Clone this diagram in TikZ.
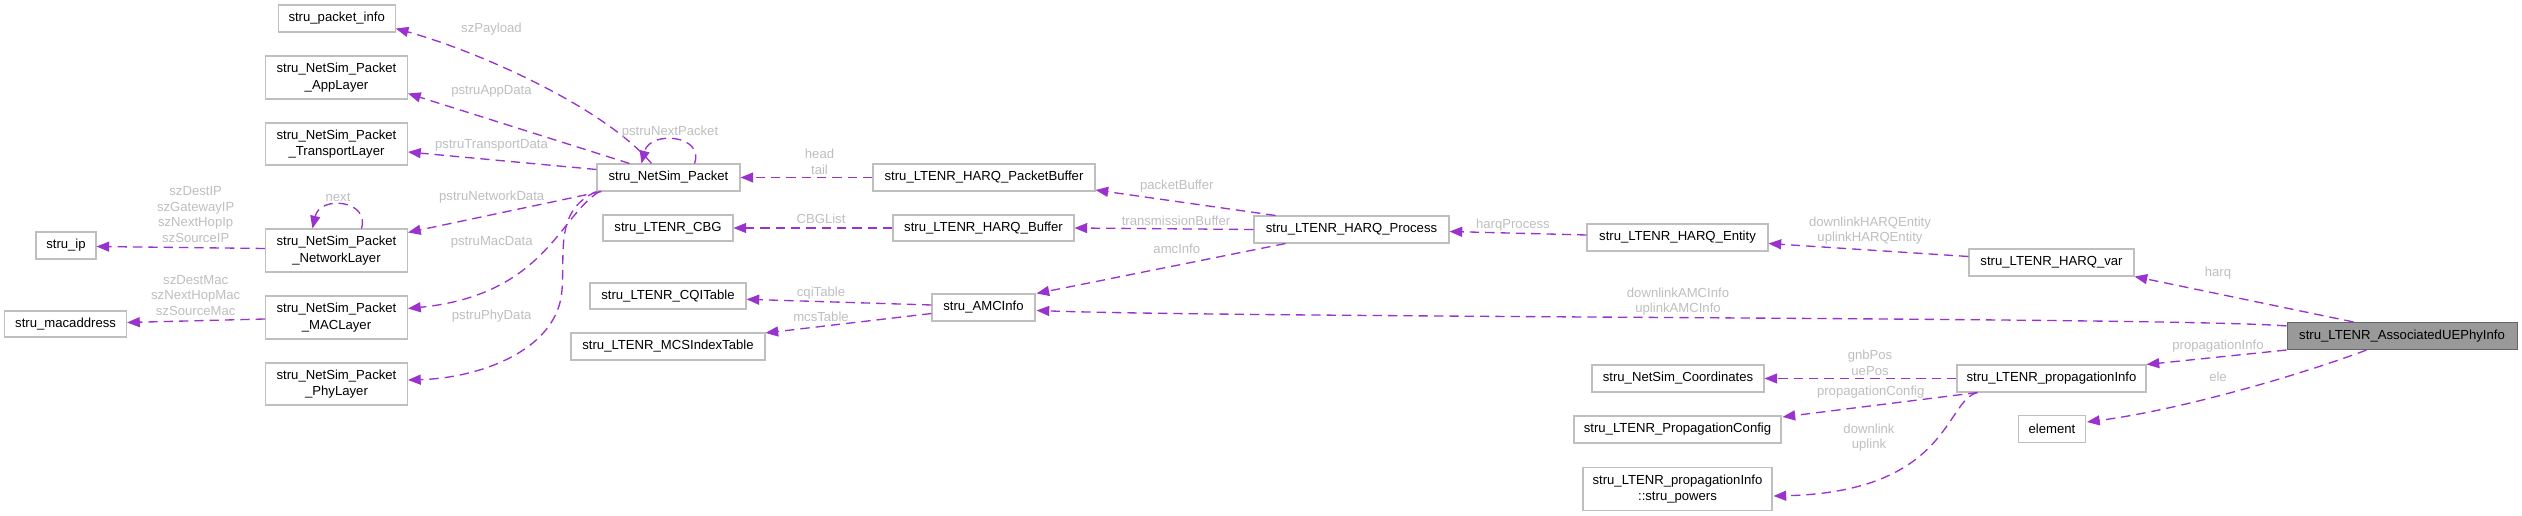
\documentclass[tikz,border=0pt]{standalone}
\usepackage{fontspec}
\setmainfont{Liberation Sans}
\usetikzlibrary{arrows.meta,calc}
\definecolor{edgec}{HTML}{9A32CD}
\definecolor{lblc}{HTML}{BEBEBE}
\definecolor{boxc}{HTML}{BFBFBF}
\definecolor{mainfill}{HTML}{999999}
\definecolor{maindraw}{HTML}{666666}
\begin{document}
\begin{tikzpicture}[x=0.75pt,y=-0.75pt,
  box/.style={draw=boxc, line width=0.8pt, fill=white, inner sep=0pt, align=center, text=black, font=\fontsize{9.85}{12.2}\selectfont},
  wh/.style 2 args={minimum width=#1*0.75pt, minimum height=#2*0.75pt},
  mainbox/.style={box, draw=maindraw, fill=mainfill},
  edge/.style={draw=edgec, line width=1pt, dash pattern=on 7pt off 4.5pt, -{Triangle[length=9.5pt,width=7.5pt]}},
  lbl/.style={text=lblc, inner sep=0pt, align=center, font=\fontsize{9.85}{11.8}\selectfont}]
\useasboundingbox (0,0) rectangle (2522,516);

% nodes
\node[box, wh={117}{27}] (pinfo) at (336.7,18.5) {stru\_packet\_info};
\node[box, wh={142}{43}] (app) at (336.5,77.5) {stru\_NetSim\_Packet\\\_AppLayer};
\node[box, wh={142}{42}] (trans) at (336.5,144) {stru\_NetSim\_Packet\\\_TransportLayer};
\node[box, wh={142}{43}] (net) at (336.5,250.5) {stru\_NetSim\_Packet\\\_NetworkLayer};
\node[box, wh={142}{43}] (mac) at (336.5,317.5) {stru\_NetSim\_Packet\\\_MACLayer};
\node[box, wh={142}{42}] (phy) at (336.5,384) {stru\_NetSim\_Packet\\\_PhyLayer};
\node[box, wh={60}{27}] (ip) at (66,245.5) {stru\_ip};
\node[box, wh={122}{26}] (macaddr) at (65.6,324) {stru\_macaddress};
\node[box, wh={143}{27}] (pkt) at (668.5,177.5) {stru\_NetSim\_Packet};
\node[box, wh={130}{26}] (cbg) at (668,228) {stru\_LTENR\_CBG};
\node[box, wh={156}{26}] (cqi) at (668,296) {stru\_LTENR\_CQITable};
\node[box, wh={194}{27}] (mcs) at (668,346.5) {stru\_LTENR\_MCSIndexTable};
\node[box, wh={222}{27}] (pbuf) at (984,177.5) {stru\_LTENR\_HARQ\_PacketBuffer};
\node[box, wh={181}{26}] (hbuf) at (983.5,228) {stru\_LTENR\_HARQ\_Buffer};
\node[box, wh={103}{27}] (amc) at (983.5,307.5) {stru\_AMCInfo};
\node[box, wh={195}{27}] (proc) at (1351.5,229.5) {stru\_LTENR\_HARQ\_Process};
\node[box, wh={181}{27}] (ent) at (1677.5,237.5) {stru\_LTENR\_HARQ\_Entity};
\node[box, wh={172}{27}] (coord) at (1678,378.5) {stru\_NetSim\_Coordinates};
\node[box, wh={207}{27}] (pconf) at (1677.5,429.5) {stru\_LTENR\_PropagationConfig};
\node[box, wh={189}{43}] (powers) at (1677.5,489) {stru\_LTENR\_propagationInfo\\::stru\_powers};
\node[box, wh={165}{27}] (hvar) at (2051.5,262.5) {stru\_LTENR\_HARQ\_var};
\node[box, wh={189}{27}] (pinfo2) at (2051.5,378.5) {stru\_LTENR\_propagationInfo};
\node[box, wh={67}{27}] (elem) at (2052,429) {element};
\node[mainbox, wh={230}{27}] (main) at (2402,336) {stru\_LTENR\_AssociatedUEPhyInfo};

% edges
\draw[edge] ($(pkt.north west)+(55,0)$) .. controls (605,108) and (480,52) .. ($(pinfo.east)+(0,10)$);
\draw[edge] ($(pkt.north west)+(33,0)$) -- ($(app.east)+(0,16)$);
\draw[edge] ($(pkt.west)+(0,-8)$) -- ($(trans.east)+(0,8)$);
\draw[edge] ($(pkt.south west)+(5,0)$) -- ($(net.north east)+(0,4)$);
\draw[edge] ($(pkt.south west)+(3,0)$) .. controls (560,215) and (545,295) .. ($(mac.east)+(0,-9)$);
\draw[edge] (pkt.south west) .. controls (555,210) and (565,250) .. (562,290) .. controls (558,350) and (480,378) .. ($(phy.east)+(0,-4)$);
\draw[edge] ($(pkt.north)+(26,0)$) .. controls (705,135) and (650,130) .. ($(pkt.north)+(-27,0)$);
\draw[edge] ($(net.north)+(25,0)$) .. controls (370,200) and (320,195) .. ($(net.north)+(-24,0)$);
\draw[edge] ($(net.west)+(0,-2)$) -- ($(ip.east)+(0,1)$);
\draw[edge] ($(mac.west)+(0,1.5)$) -- ($(macaddr.east)+(0,-1.5)$);
\draw[edge] (pbuf.west) -- (pkt.east);
\draw[edge] (hbuf.west) -- (cbg.east);
\draw[edge] ($(amc.west)+(0,-2.5)$) -- ($(cqi.east)+(0,3.3)$);
\draw[edge] ($(amc.west)+(0,6)$) -- ($(mcs.north east)+(0,0.5)$);
\draw[edge] ($(proc.north west)+(22,0)$) -- ($(pbuf.south east)+(0,-1.5)$);
\draw[edge] (proc.west) -- (hbuf.east);
\draw[edge] ($(proc.south west)+(32,0)$) -- ($(amc.north east)+(1,0)$);
\draw[edge] ($(main.north west)+(0,4)$) .. controls (2180,317) and (1250,318) .. ($(amc.east)+(1,3)$);
\draw[edge] ($(ent.west)+(0,-2.5)$) -- ($(proc.east)+(0,2)$);
\draw[edge] ($(hvar.west)+(0,-6)$) -- ($(ent.east)+(0,6)$);
\draw[edge] ($(main.north west)+(67,0)$) -- (hvar.south east);
\draw[edge] (main.south west) -- (pinfo2.north east);
\draw[edge] ($(main.south west)+(80,0)$) .. controls (2300,375) and (2180,410) .. ($(elem.east)+(1,-7)$);
\draw[edge] (pinfo2.west) -- (coord.east);
\draw[edge] ($(pinfo2.south west)+(21,0)$) -- ($(pconf.north east)+(1,1.5)$);
\draw[edge] ($(pinfo2.south west)+(21,0)$) .. controls (1945,400) and (1950,492) .. ($(powers.east)+(1,7)$);

% labels
\node[lbl] (l1) at (491.5,29) {szPayload};
\node[lbl] (l2) at (491.5,91) {pstruAppData};
\node[lbl] (l3) at (491.5,145.7) {pstruTransportData};
\node[lbl] (l4) at (491.7,197.3) {pstruNetworkData};
\node[lbl] (l5) at (491.7,242.7) {pstruMacData};
\node[lbl] (l6) at (491.7,316) {pstruPhyData};
\node[lbl] (l7) at (670,131.7) {pstruNextPacket};
\node[lbl] (l8) at (338,197.7) {next};
\node[lbl] (l9) at (195.7,214.6) {szDestIP\\szGatewayIP\\szNextHopIp\\szSourceIP};
\node[lbl] (l10) at (195.7,295.3) {szDestMac\\szNextHopMac\\szSourceMac};
\node[lbl] (l11) at (819.5,162) {head\\tail};
\node[lbl] (l12) at (821,219.3) {CBGList};
\node[lbl] (l13) at (821,292.7) {cqiTable};
\node[lbl] (l14) at (821,316.7) {mcsTable};
\node[lbl] (l15) at (1176.8,185.7) {packetBuffer};
\node[lbl] (l16) at (1176,220.7) {transmissionBuffer};
\node[lbl] (l17) at (1176.8,248.7) {amcInfo};
\node[lbl] (l18) at (1512.9,225) {harqProcess};
\node[lbl] (l19) at (1870,230.7) {downlinkHARQEntity\\uplinkHARQEntity};
\node[lbl] (l20) at (2218,272.7) {harq};
\node[lbl] (l21) at (1678,301.5) {downlinkAMCInfo\\uplinkAMCInfo};
\node[lbl] (l22) at (2218,346) {propagationInfo};
\node[lbl] (l23) at (2218,377.3) {ele};
\node[lbl] (l24) at (1870,362.7) {gnbPos\\uePos};
\node[lbl] (l25) at (1870.7,391.7) {propagationConfig};
\node[lbl] (l26) at (1869,437.5) {downlink\\uplink};
\end{tikzpicture}
\end{document}
